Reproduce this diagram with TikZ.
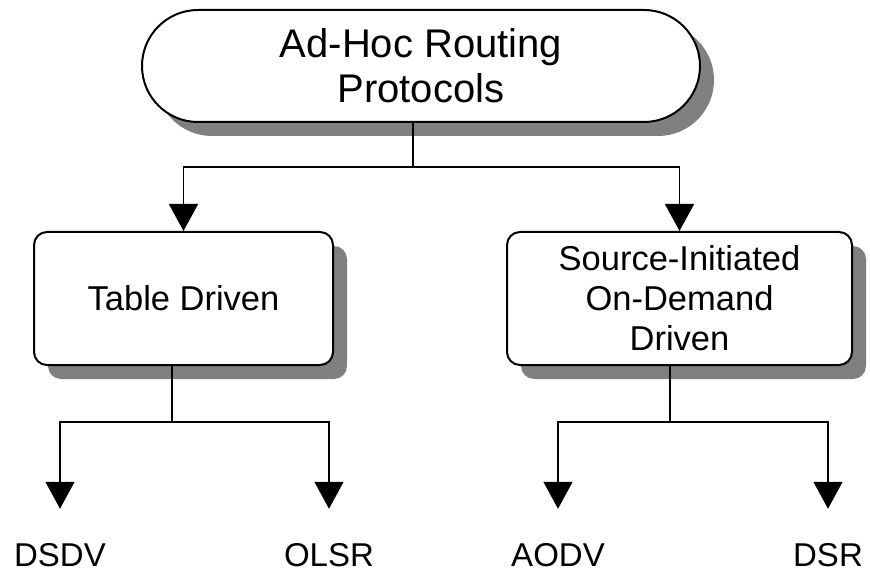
\documentclass[tikz,border=0pt]{standalone}
\usepackage{fontspec}
\setmainfont{Liberation Sans}
\usetikzlibrary{arrows.meta,shapes.misc,shadows}
\tikzset{
  shad/.style={drop shadow={shadow xshift=14pt, shadow yshift=-14pt, fill=shadowgray, opacity=1}},
  capsule/.style={rounded rectangle, draw=black, line width=2pt, fill=white, shad,
    minimum width=558pt, minimum height=112pt, inner sep=0pt, align=center,
    font=\fontsize{40}{45}\selectfont},
  boxnode/.style={rectangle, rounded corners=13pt, draw=black, line width=2pt, fill=white, shad,
    minimum height=133pt, inner sep=0pt, align=center,
    font=\fontsize{34.5}{40}\selectfont},
  leaf/.style={inner sep=0pt, anchor=base, font=\fontsize{33}{38}\selectfont},
  conn/.style={draw=black, line width=1.6pt},
  arr/.style={conn, -{Triangle[width=29pt,length=27pt]}}
}
\definecolor{shadowgray}{HTML}{808080}
\begin{document}
\begin{tikzpicture}[x=1pt,y=-1pt]
\useasboundingbox (0,0) rectangle (870,572);
\node[capsule] (root) at (421,66) {Ad-Hoc Routing\\Protocols};
\node[boxnode, minimum width=299pt] (td) at (183.5,298.5) {Table Driven};
\node[boxnode, minimum width=345pt] (sd) at (679.5,298.5) {Source-Initiated\\On-Demand\\Driven};
\node[leaf] (dsdv) at (60,566) {DSDV};
\node[leaf] (olsr) at (329,566) {OLSR};
\node[leaf] (aodv) at (558,566) {AODV};
\node[leaf] (dsr) at (828,566) {DSR};
\coordinate (b0) at (413,167);
\coordinate (b1) at (172,422);
\coordinate (b2) at (670,422);
\draw[conn] (root.south -| b0) -- (b0);
\draw[arr] (b0) -| (td.north);
\draw[arr] (b0) -| (sd.north);
\draw[conn] (td.south -| b1) -- (b1);
\draw[arr, shorten >=34pt] (b1) -| (dsdv.north);
\draw[arr, shorten >=34pt] (b1) -| (olsr.north);
\draw[conn] (sd.south -| b2) -- (b2);
\draw[arr, shorten >=34pt] (b2) -| (aodv.north);
\draw[arr, shorten >=34pt] (b2) -| (dsr.north);
\end{tikzpicture}
\end{document}
